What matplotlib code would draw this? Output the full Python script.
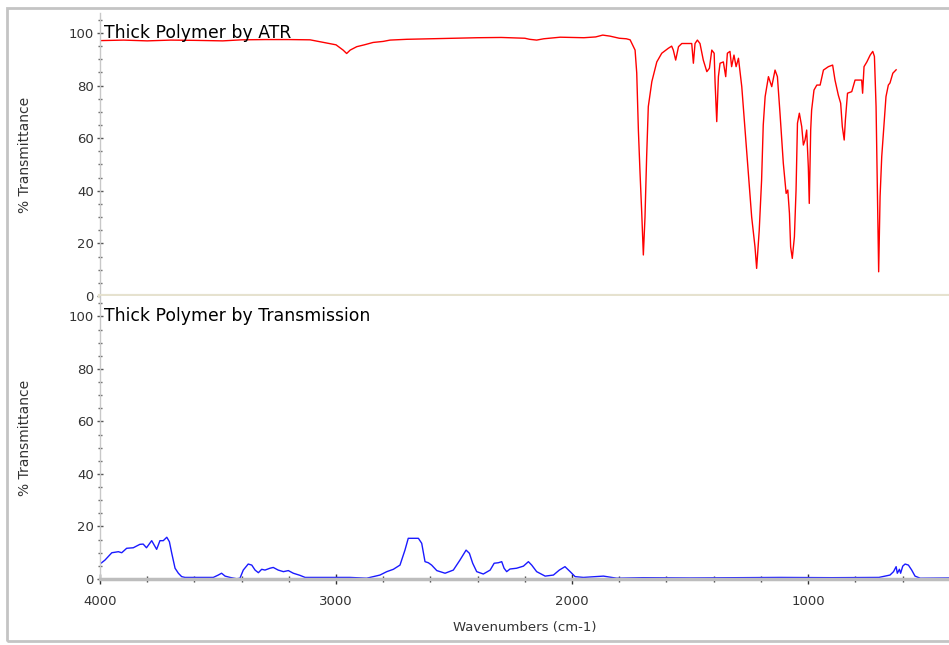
import matplotlib
matplotlib.use('Agg')
import matplotlib.pyplot as plt
from matplotlib.ticker import MultipleLocator
import numpy as np

# ATR spectrum (red)
atr_wn = [4000, 3900, 3800, 3700, 3600, 3480, 3400, 3300, 3200, 3110, 3040, 3000,
          2970, 2955, 2940, 2912, 2880, 2843, 2800, 2771, 2700, 2600, 2500, 2400,
          2300, 2200, 2180, 2150, 2120, 2050, 2000, 1950, 1900, 1870, 1839, 1800,
          1770, 1754, 1733, 1726, 1719, 1712, 1705, 1698, 1691, 1684, 1677, 1662,
          1641, 1620, 1592, 1578, 1571, 1561, 1549, 1535, 1493, 1486, 1479, 1469,
          1458, 1444, 1429, 1418, 1408, 1398, 1394, 1387, 1380, 1373, 1359, 1349,
          1342, 1331, 1324, 1314, 1305, 1295, 1281, 1267, 1253, 1239, 1225, 1218,
          1207, 1197, 1190, 1182, 1168, 1154, 1140, 1130, 1119, 1105, 1093, 1086,
          1079, 1074, 1067, 1058, 1051, 1045, 1037, 1027, 1020, 1013, 1006, 999,
          995, 989, 985, 975, 963, 949, 935, 914, 896, 886, 872, 862,
          855, 847, 842, 833, 815, 801, 780, 773, 769, 763, 751, 737,
          726, 719, 712, 707, 701, 695, 688, 678, 670, 660, 653, 641, 627]
atr_t = [97.1, 97.3, 97.0, 97.3, 97.2, 97.0, 97.4, 97.5, 97.5, 97.4, 96.2, 95.5,
         93.5, 92.2, 93.5, 94.8, 95.5, 96.4, 96.8, 97.3, 97.6, 97.8, 98.0, 98.2,
         98.3, 98.0, 97.6, 97.3, 97.8, 98.4, 98.3, 98.2, 98.5, 99.2, 98.8, 98.0,
         97.8, 97.4, 93.5, 84.8, 63.0, 46.8, 32.0, 15.6, 30.0, 53.0, 72.0, 81.5,
         89.0, 92.3, 94.2, 95.0, 93.5, 89.7, 94.8, 96.0, 96.0, 88.5, 96.0, 97.3,
         96.0, 89.7, 85.3, 86.6, 93.5, 92.3, 81.0, 66.3, 83.4, 88.5, 89.0, 83.4,
         92.3, 93.0, 87.2, 91.6, 87.2, 90.4, 79.6, 63.0, 46.8, 30.0, 18.7, 10.5,
         25.0, 44.0, 65.0, 75.8, 83.4, 79.6, 85.9, 83.4, 69.5, 50.5, 39.0, 40.3,
         31.4, 18.7, 14.3, 22.5, 40.3, 65.7, 69.5, 64.4, 57.4, 59.3, 63.1, 49.0,
         35.2, 63.1, 70.7, 78.3, 80.2, 80.2, 85.9, 87.2, 87.8, 82.1, 76.4, 73.3,
         64.4, 59.3, 66.9, 77.1, 77.7, 82.1, 82.1, 82.1, 77.1, 87.2, 89.0, 91.6,
         93.0, 91.1, 72.0, 44.0, 9.2, 37.8, 53.0, 65.7, 75.8, 80.2, 81.0, 84.7, 86.0]

# Transmission spectrum (blue)
tr_wn = [4000, 3993, 3979, 3950, 3922, 3908, 3887, 3859, 3831, 3817, 3803, 3781,
         3760, 3746, 3732, 3717, 3706, 3696, 3682, 3668, 3654, 3640, 3520, 3499,
         3485, 3470, 3449, 3421, 3407, 3393, 3372, 3357, 3343, 3329, 3315, 3301,
         3280, 3266, 3245, 3223, 3202, 3181, 3153, 3131, 2941, 2870, 2814, 2785,
         2757, 2729, 2708, 2694, 2651, 2637, 2623, 2609, 2595, 2573, 2538, 2503,
         2475, 2449, 2435, 2421, 2404, 2376, 2347, 2330, 2312, 2298, 2288, 2277,
         2263, 2235, 2206, 2185, 2171, 2150, 2114, 2079, 2054, 2030, 2008, 1987,
         1952, 1867, 1811, 1700, 1500, 1300, 1119, 900, 700, 653, 638, 627,
         622, 613, 608, 599, 589, 575, 561, 547, 525, 403]
tr_t = [5.8, 6.2, 7.2, 10.0, 10.4, 10.0, 11.7, 11.9, 13.2, 13.3, 11.9, 14.6,
        11.3, 14.6, 14.6, 15.9, 14.2, 9.8, 4.1, 2.2, 0.9, 0.6, 0.6, 1.5,
        2.2, 1.1, 0.6, 0.1, 0.3, 3.4, 5.7, 5.3, 3.4, 2.4, 3.7, 3.4,
        4.1, 4.4, 3.4, 2.8, 3.2, 2.2, 1.4, 0.6, 0.6, 0.3, 1.5, 2.8,
        3.7, 5.3, 11.0, 15.5, 15.5, 13.6, 6.6, 6.2, 5.3, 3.2, 2.2, 3.4,
        7.2, 11.0, 9.8, 6.0, 2.8, 1.9, 3.4, 6.0, 6.2, 6.6, 4.1, 2.8,
        3.8, 4.1, 4.9, 6.6, 5.3, 2.8, 1.1, 1.5, 3.4, 4.7, 2.8, 0.9,
        0.6, 1.1, 0.3, 0.5, 0.4, 0.5, 0.6, 0.5, 0.6, 1.5, 2.8, 4.7,
        2.2, 3.7, 2.2, 4.9, 5.7, 5.3, 3.4, 1.1, 0.3, 0.4]

titles = ['Thick Polymer by ATR', 'Thick Polymer by Transmission']
yticks = [0, 20, 40, 60, 80, 100]
xticks = [4000, 3000, 2000, 1000]

W, H = 949, 645
fig = plt.figure(figsize=(W / 100, H / 100), dpi=100)
fig.patch.set_facecolor('white')

# outer grey frame
fig.add_artist(plt.Rectangle((7 / W, 1 - 641 / H), 2.0, 633 / H, transform=fig.transFigure,
                             fill=False, edgecolor='#c4c4c4', linewidth=2))

left = 100 / W
width = 1 - left
ax1 = fig.add_axes([left, 1 - 296 / H, width, 283 / H])
ax2 = fig.add_axes([left, 1 - 579 / H, width, 283 / H])

ax1.plot(atr_wn, atr_t, color='#ff0000', linewidth=1.0)
ax2.plot(tr_wn, tr_t, color='#1a1aff', linewidth=1.0)

for ax, title, ytop in zip([ax1, ax2], titles, [107.6, 107.8]):
    ax.set_xlim(4000, 403)
    ax.set_ylim(0, ytop)
    ax.set_facecolor('white')
    for s in ['top', 'right']:
        ax.spines[s].set_visible(False)
    ax.spines['left'].set_color('#c8c8c8')
    ax.spines['left'].set_linewidth(1.0)
    ax.set_yticks(yticks)
    ax.yaxis.set_minor_locator(MultipleLocator(5))
    ax.tick_params(axis='y', which='major', direction='inout', length=5, width=1,
                   color='#555555', labelsize=9.5, labelcolor='#333333', pad=2)
    ax.tick_params(axis='y', which='minor', direction='inout', length=3, width=1,
                   color='#666666')
    ax.set_ylabel('% Transmittance', fontsize=10, color='#333333')
    ax.yaxis.set_label_coords(-0.08, 0.5)
    ax.text(0.005, 0.913, title, transform=ax.transAxes, fontsize=12.4,
            color='black', va='baseline', ha='left')

ax1.spines['bottom'].set_color('#e6e2cf')
ax1.spines['bottom'].set_linewidth(3)
ax1.set_xticks([])

ax2.spines['bottom'].set_color('#bdbdbd')
ax2.spines['bottom'].set_linewidth(2.5)
ax2.set_xticks(xticks)
ax2.xaxis.set_minor_locator(MultipleLocator(200))
ax2.tick_params(axis='x', which='major', direction='inout', length=7, width=1,
                color='#333333', labelsize=9.5, labelcolor='#333333', pad=8)
ax2.tick_params(axis='x', which='minor', direction='inout', length=4, width=1,
                color='#444444')
ax2.set_xlabel('Wavenumbers (cm-1)', fontsize=9.5, color='#333333')
ax2.xaxis.set_label_coords(0.5, -0.15)

fig.savefig('out.png', dpi=100, facecolor='white')
